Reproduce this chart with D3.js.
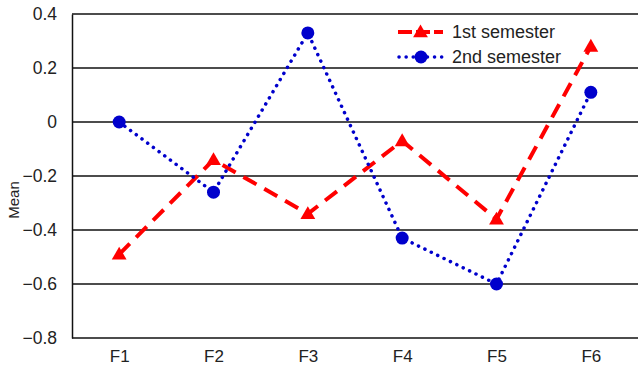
<!DOCTYPE html>
<html><head><meta charset="utf-8">
<script src="https://cdn.jsdelivr.net/npm/d3@7"></script>
<style>body{margin:0;background:#fff}svg{display:block}text{font-family:"Liberation Sans",Arial,sans-serif;fill:#222}</style>
</head><body>
<svg id="c" width="638" height="369"></svg>
<script>
const categories = ["F1","F2","F3","F4","F5","F6"];
const sem1 = [-0.49,-0.14,-0.34,-0.07,-0.36,0.28];
const sem2 = [0.0,-0.26,0.33,-0.43,-0.60,0.11];
const yTicks = [0.4,0.2,0,-0.2,-0.4,-0.6,-0.8];
const seriesNames = ["1st semester","2nd semester"];

const svg = d3.select("#c");
const m = {l:72, t:14, r:0, b:31};
const W = 638, H = 369;
const x = d3.scalePoint().domain(categories).range([m.l, W-m.r]).padding(0.5);
const y = d3.scaleLinear().domain([-0.8,0.4]).range([H-m.b, m.t]);
const FONT = "Liberation Sans, Arial, sans-serif";

// grid
svg.append("g").selectAll("line").data(yTicks.filter(v=>v>-0.8)).join("line")
  .attr("x1",m.l).attr("x2",W).attr("y1",d=>y(d)).attr("y2",d=>y(d))
  .attr("stroke","#111").attr("stroke-width",1.5);

// y axis
const ya = svg.append("g").attr("transform",`translate(${m.l},0)`)
  .call(d3.axisLeft(y).tickValues(yTicks).tickSize(0).tickPadding(15).tickFormat(d=>d===0?"0":d3.format(".1f")(d)));
ya.select(".domain").attr("stroke","#111").attr("stroke-width",1.5);
ya.selectAll("text").attr("font-size",17.5).attr("fill","#222").attr("font-family",FONT);

// x axis
const xa = svg.append("g").attr("transform",`translate(0,${y(-0.8)})`)
  .call(d3.axisBottom(x).tickSize(0).tickPadding(12));
xa.select(".domain").attr("stroke","#111").attr("stroke-width",1.5).attr("d",`M${m.l},0H${W}`);
xa.selectAll("text").attr("font-size",17).attr("fill","#222").attr("font-family",FONT);

svg.append("text").attr("transform","translate(19,200) rotate(-90)")
  .attr("text-anchor","middle").attr("font-size",15).text("Mean");

const line = d3.line().x((d,i)=>x(categories[i])).y(d=>y(d));
const tri = d3.symbol().type(d3.symbolTriangle).size(95);

svg.append("path").datum(sem1).attr("d",line).attr("fill","none")
  .attr("stroke","#ff0000").attr("stroke-width",4).attr("stroke-dasharray","15,9");
svg.append("path").datum(sem2).attr("d",line).attr("fill","none")
  .attr("stroke","#0000cc").attr("stroke-width",3.5).attr("stroke-linecap","round").attr("stroke-dasharray","0.1,7");

svg.append("g").selectAll("path").data(sem1).join("path")
  .attr("d",tri).attr("transform",(d,i)=>`translate(${x(categories[i])},${y(d)+1})`).attr("fill","#ff0000");
svg.append("g").selectAll("circle").data(sem2).join("circle")
  .attr("cx",(d,i)=>x(categories[i])).attr("cy",d=>y(d)).attr("r",6.5).attr("fill","#0000cc");

// legend
const lg = svg.append("g");
const ly = [32,57];
lg.append("line").attr("x1",398).attr("x2",443).attr("y1",ly[0]).attr("y2",ly[0])
  .attr("stroke","#ff0000").attr("stroke-width",4).attr("stroke-dasharray","14,4");
lg.append("path").attr("d",tri).attr("transform",`translate(420.5,${ly[0]+1})`).attr("fill","#ff0000");
lg.append("line").attr("x1",399).attr("x2",443).attr("y1",ly[1]).attr("y2",ly[1])
  .attr("stroke","#0000cc").attr("stroke-width",3.5).attr("stroke-linecap","round").attr("stroke-dasharray","0.1,7");
lg.append("circle").attr("cx",421).attr("cy",ly[1]).attr("r",6.5).attr("fill","#0000cc");
lg.selectAll("text").data(seriesNames).join("text")
  .attr("x",452).attr("y",(d,i)=>ly[i]).attr("dy","0.35em").attr("font-size",18).text(d=>d);
</script>
</body></html>
